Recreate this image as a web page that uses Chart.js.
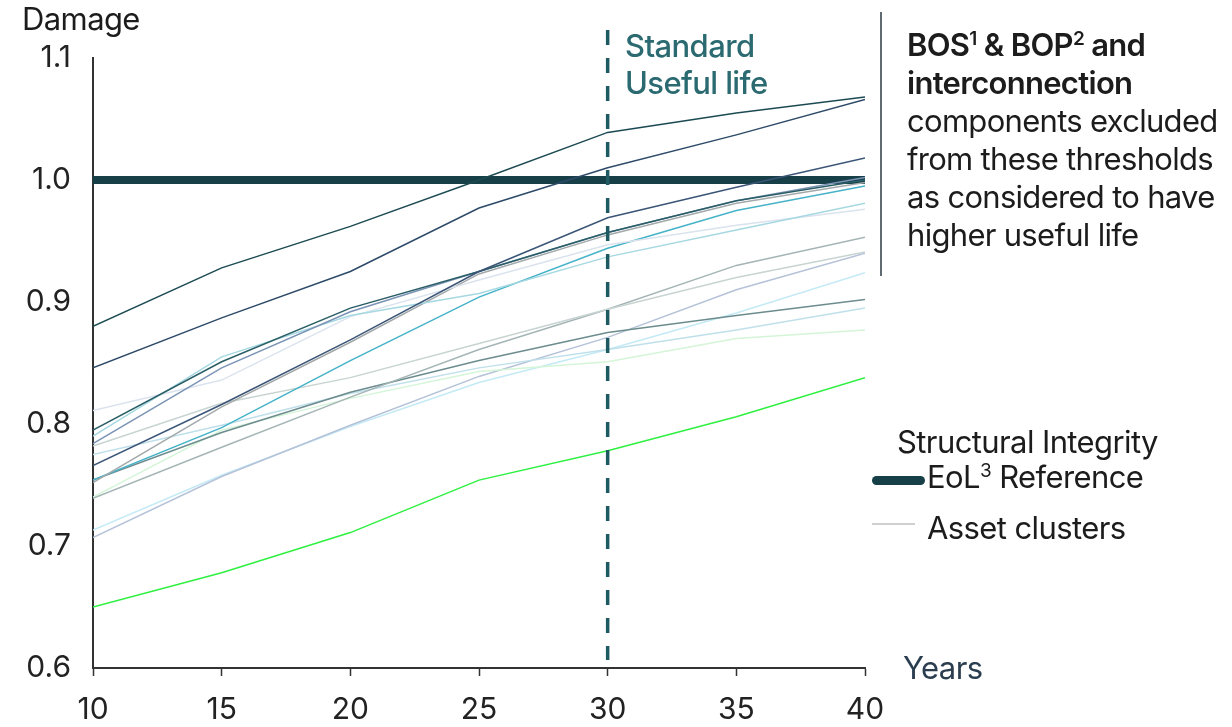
<!DOCTYPE html>
<html>
<head>
<meta charset="utf-8">
<script src="https://cdn.jsdelivr.net/npm/chart.js@4.4.1/dist/chart.umd.min.js"></script>
<style>
  html, body { margin: 0; padding: 0; background: #fff; }
  body { width: 1232px; height: 727px; position: relative; overflow: hidden; font-family: Inter, "Noto Sans", sans-serif; color: #1c1c1c; }
  #wrap { position: absolute; left: 0; top: 0; width: 1232px; height: 727px; }
  .t { position: absolute; white-space: nowrap; font-size: 31px; line-height: 1; letter-spacing: -0.6px; }
  .note { position: absolute; left: 907px; top: 26px; font-size: 31px; line-height: 38px; letter-spacing: -0.7px; white-space: nowrap; }
  .note b { font-weight: 600; }
  sup { font-size: 19px; vertical-align: 11px; line-height: 0; }
  .sw { position: absolute; }
</style>
</head>
<body>
<div id="wrap"><canvas id="chart" width="1232" height="727"></canvas></div>

<div class="t" style="left:22px;top:3px;">Damage</div>
<div class="t" style="left:625px;top:30px;color:#2a6a70;font-weight:500;">Standard</div>
<div class="t" style="left:625px;top:67px;color:#2a6a70;font-weight:500;">Useful life</div>
<div class="t" style="left:903px;top:652px;color:#2b3e50;">Years</div>

<div class="note">
  <b>BOS<sup>1</sup> &amp; BOP<sup>2</sup> and</b><br>
  <b>interconnection</b><br>
  components excluded<br>
  from these thresholds<br>
  as considered to have<br>
  higher useful life
</div>

<div class="t" style="left:897px;top:426px;">Structural Integrity</div>
<div class="sw" style="left:872px;top:476px;width:53px;height:9px;border-radius:5px;background:#173f47;"></div>
<div class="t" style="left:927px;top:461px;">EoL<sup>3</sup> Reference</div>
<div class="sw" style="left:872px;top:523px;width:43px;height:1.5px;background:#cfcfcf;"></div>
<div class="t" style="left:927px;top:512px;">Asset clusters</div>

<script>
// Damage curves per asset cluster vs. years in service.
const years = [10, 15, 20, 25, 30, 35, 40];
const usefulLife = 30;
const eolReference = [1, 1, 1, 1, 1, 1, 1];

const clusterA = [0.880, 0.928, 0.962, 1.000, 1.039, 1.055, 1.068];
const clusterB = [0.846, 0.887, 0.925, 0.977, 1.010, 1.037, 1.066];
const clusterC = [0.766, 0.816, 0.869, 0.925, 0.969, 0.994, 1.018];
const clusterD = [0.795, 0.851, 0.895, 0.925, 0.957, 0.983, 1.000];
const clusterE = [0.784, 0.846, 0.892, 0.925, 0.957, 0.983, 1.002];
const clusterF = [0.790, 0.855, 0.889, 0.907, 0.937, 0.959, 0.981];
const clusterG = [0.811, 0.836, 0.888, 0.918, 0.947, 0.963, 0.976];
const clusterH = [0.752, 0.814, 0.867, 0.923, 0.955, 0.981, 0.998];
const clusterI = [0.754, 0.797, 0.852, 0.904, 0.944, 0.975, 0.995];
const clusterJ = [0.782, 0.817, 0.838, 0.866, 0.894, 0.920, 0.941];
const clusterK = [0.739, 0.781, 0.822, 0.861, 0.894, 0.930, 0.953];
const clusterL = [0.754, 0.793, 0.826, 0.852, 0.875, 0.889, 0.902];
const clusterM = [0.775, 0.799, 0.825, 0.846, 0.861, 0.877, 0.895];
const clusterN = [0.740, 0.795, 0.821, 0.843, 0.851, 0.870, 0.877];
const clusterO = [0.707, 0.757, 0.799, 0.839, 0.871, 0.910, 0.940];
const clusterP = [0.713, 0.758, 0.798, 0.834, 0.861, 0.891, 0.924];
const clusterQ = [0.650, 0.678, 0.711, 0.754, 0.778, 0.806, 0.838];

const clusters = [clusterA, clusterB, clusterC, clusterD, clusterE, clusterF, clusterG, clusterH,
  clusterI, clusterJ, clusterK, clusterL, clusterM, clusterN, clusterO, clusterP, clusterQ];
const clusterColors = ["#1c4a52", "#2d4a68", "#3b5577", "#2a5e66", "#7b93b5", "#a6d8e2", "#dbe3ee", "#a3a9ab",
  "#45b2c8", "#c8d4d2", "#a5b5b5", "#6d8c8e", "#bfe0ea", "#d4f5d8", "#b5c2d8", "#c4eaf6", "#2ef040"];

const ink = "#222";
const pts = (vals) => vals.map((v, i) => ({ x: years[i], y: v }));

const datasets = clusters.map((d, i) => ({
  data: pts(d),
  borderColor: clusterColors[i],
  borderWidth: 1.5,
  pointRadius: 0,
  tension: 0,
  order: 0,
}));
datasets.push({
  data: pts(eolReference),
  borderColor: "#173f47",
  borderWidth: 8,
  pointRadius: 0,
  order: 1,
});

// dashed marker at the standard useful life + divider next to the note
const overlay = {
  id: "overlay",
  afterDatasetsDraw(chart) {
    const { ctx, scales: { x } } = chart;
    const px = x.getPixelForValue(usefulLife);
    ctx.save();
    ctx.strokeStyle = "#1e5a62";
    ctx.lineWidth = 3.5;
    ctx.setLineDash([15, 13]);
    ctx.beginPath();
    ctx.moveTo(px, 30);
    ctx.lineTo(px, 660);
    ctx.stroke();
    ctx.setLineDash([]);
    ctx.strokeStyle = "#2a3a40";
    ctx.lineWidth = 1.5;
    ctx.beginPath();
    ctx.moveTo(881, 12);
    ctx.lineTo(881, 276);
    ctx.stroke();
    ctx.restore();
  },
};

new Chart(document.getElementById("chart"), {
  type: "line",
  data: { datasets },
  options: {
    responsive: false,
    animation: false,
    layout: { padding: { left: 0, right: 367, top: 58, bottom: 0 } },
    plugins: { legend: { display: false }, tooltip: { enabled: false } },
    scales: {
      x: {
        type: "linear",
        min: 10,
        max: 40,
        afterFit: (s) => { s.height = 59; },
        afterBuildTicks: (s) => { s.ticks = years.map((v) => ({ value: v })); },
        ticks: { color: ink, font: { family: "Inter", size: 30 }, padding: 16 },
        grid: { drawOnChartArea: false, drawTicks: true, tickLength: 8, color: "#333", tickWidth: 1.5 },
        border: { color: "#333", width: 2 },
      },
      y: {
        min: 0.6,
        max: 1.1,
        afterFit: (s) => { s.width = 93; },
        ticks: { stepSize: 0.1, color: ink, font: { family: "Inter", size: 30 }, padding: 22, callback: (v) => v.toFixed(1) },
        grid: { display: false, drawTicks: false },
        border: { color: "#333", width: 2 },
      },
    },
  },
  plugins: [overlay],
});
</script>
</body>
</html>
